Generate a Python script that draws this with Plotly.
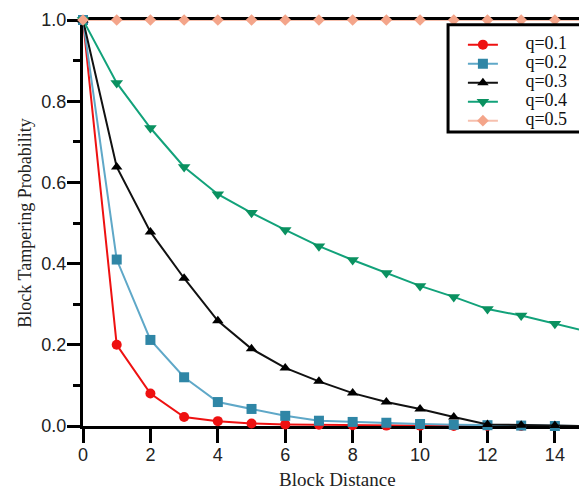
import plotly.graph_objects as go

x = list(range(16))
q01 = [1.0, 0.20, 0.08, 0.022, 0.012, 0.006, 0.004, 0.003, 0.002, 0.001, 0.001, 0.0, 0.0, 0.0, 0.0, 0.0]
q02 = [1.0, 0.41, 0.212, 0.12, 0.059, 0.042, 0.025, 0.013, 0.01, 0.008, 0.005, 0.003, 0.002, 0.001, 0.0, 0.0]
q03 = [1.0, 0.638, 0.478, 0.364, 0.259, 0.19, 0.143, 0.11, 0.081, 0.059, 0.042, 0.022, 0.004, 0.002, 0.001, 0.0]
q04 = [1.0, 0.845, 0.734, 0.638, 0.571, 0.525, 0.483, 0.443, 0.409, 0.377, 0.345, 0.318, 0.288, 0.272, 0.252, 0.232]
q05 = [1.0] * 16

series = [
    ("q=0.1", q01, "#ee1111", "#ee1111", "circle", 10),
    ("q=0.2", q02, "#5fa8c8", "#2f86a6", "square", 10),
    ("q=0.3", q03, "#111111", "#000000", "triangle-up", 10),
    ("q=0.4", q04, "#12a27a", "#0a9160", "triangle-down", 11),
    ("q=0.5", q05, "rgba(240,150,120,0.6)", "#f4a58a", "diamond", 9),
]

SERIF = "Liberation Serif, Times New Roman, serif"
SANS = "Liberation Sans, Arial, sans-serif"
PAD = "&nbsp;" * 5

fig = go.Figure()
for name, ys, lc, mc, sym, sz in series:
    fig.add_trace(go.Scatter(
        x=x, y=ys, mode="lines+markers",
        name='<span style="font-size:18px">' + PAD + name + "</span>",
        line=dict(color=lc, width=2),
        marker=dict(color=mc, symbol=sym, size=sz),
        cliponaxis=False,
    ))

fig.add_shape(type="rect", xref="paper", yref="paper",
              x0=0.713, x1=0.979, y0=0.724, y1=0.988,
              line=dict(color="black", width=3), fillcolor="white", layer="above")

fig.add_annotation(text="Block Distance", xref="paper", yref="paper",
                   x=0.498, y=-0.132, xanchor="center", yanchor="middle",
                   showarrow=False, font=dict(family=SERIF, size=19, color="#222"))

fig.update_layout(
    width=587, height=489,
    margin=dict(l=75, r=0, t=12, b=71),
    plot_bgcolor="white", paper_bgcolor="white",
    showlegend=True,
    legend=dict(
        x=0.742, y=0.975, xanchor="left", yanchor="top",
        bgcolor="rgba(0,0,0,0)", borderwidth=0,
        font=dict(family=SERIF, size=12, color="#111"),
        tracegroupgap=0,
    ),
    xaxis=dict(
        range=[0, 15.19], tickvals=[0, 2, 4, 6, 8, 10, 12, 14],
        showline=True, linecolor="black", linewidth=3, mirror=True,
        layer="below traces",
        ticks="outside", ticklen=14, tickwidth=3, tickcolor="black",
        ticklabelstandoff=-4,
        showgrid=False, zeroline=False,
        tickfont=dict(family=SANS, size=18, color="#222"),
    ),
    yaxis=dict(
        range=[0, 1], tickvals=[0, 0.2, 0.4, 0.6, 0.8, 1.0], tickformat=".1f",
        showline=True, linecolor="black", linewidth=3,
        layer="below traces",
        ticks="outside", ticklen=13, tickwidth=3, tickcolor="black",
        ticklabelstandoff=-3,
        minor=dict(dtick=0.1, ticks="outside", ticklen=7, tickwidth=3, tickcolor="black"),
        showgrid=False, zeroline=False,
        tickfont=dict(family=SANS, size=18, color="#222"),
        title=dict(text="Block Tampering Probability", standoff=6,
                   font=dict(family=SERIF, size=18, color="#222")),
    ),
)

fig.write_html("out.html")
